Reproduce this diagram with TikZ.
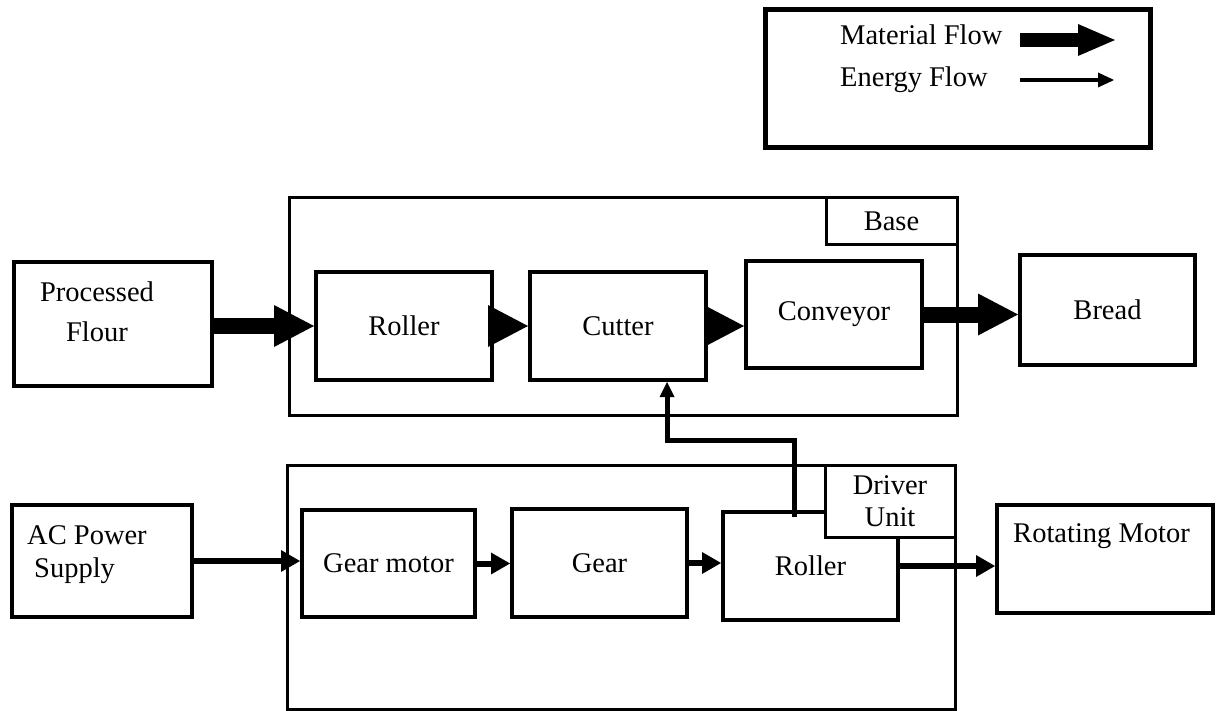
\documentclass[tikz,border=0pt]{standalone}
\usepackage{fontspec}
\setmainfont{Liberation Serif}
\usepackage{tikz}
\usetikzlibrary{positioning, calc, arrows.meta}
\tikzset{
    blocknode/.style={
        draw, line width=4pt, fill=white, anchor=center, inner sep=0pt,
        font=\fontsize{28.5}{34}\selectfont
    },
    groupnode/.style={
        draw, line width=3pt, anchor=center, inner sep=0pt
    },
    labeltext/.style={
        inner sep=0pt, font=\fontsize{28.5}{34}\selectfont
    }
}

\begin{document}
\begin{tikzpicture}[
        x=1pt, y=-1pt,
        % --- STYLE ---
        matflow/.style={draw, line width=16pt, -{Triangle[length=40pt, width=42pt, line width=0pt]}},
        engflow/.style={draw, line width=6pt, -{Triangle[length=19pt, width=22pt, line width=0pt]}},
        feedflow/.style={draw, line width=5pt, -{Triangle[length=15pt, width=15pt, line width=0pt]}},
        legendbox/.style={draw, line width=5pt, minimum width=385pt, minimum height=138pt, inner sep=0pt}
    ]
    \useasboundingbox (0,0) rectangle (1217,711);

        % ==========================================
        % LEGEND
        % ==========================================
        \node[legendbox] (legend) at (957.5,79) {};
        \node[labeltext, anchor=base west] (mattxt) at (840,45) {Material Flow};
        \node[labeltext, anchor=base west] (engtxt) at (840,87) {Energy Flow};
        \coordinate (matA) at (1020,40);
        \coordinate (matB) at (1115,40);
        \coordinate (engA) at (1020,80);
        \coordinate (engB) at (1114,80);
        \draw[line width=14pt, -{Triangle[length=37pt, width=32pt, line width=0pt]}] (matA) -- (matB);
        \draw[line width=4pt, -{Triangle[length=16pt, width=15pt, line width=0pt]}] (engA) -- (engB);

        % ==========================================
        % BASE
        % ==========================================
        \node[groupnode, minimum width=668pt, minimum height=217pt] (base) at (623,306.5) {};
        \node[blocknode, line width=3pt, minimum width=131pt, minimum height=47pt] (baselbl) at (891.5,221.5) {Base};

        \node[blocknode, minimum width=198pt, minimum height=124pt] (flour) at (113,324) {};
        \node[labeltext, align=center, font=\fontsize{28.5}{40}\selectfont] (flourtxt) at (97,312) {Processed\\Flour};

        \node[blocknode, minimum width=176pt, minimum height=108pt] (roller) at (404,326) {Roller};
        \node[blocknode, minimum width=176pt, minimum height=108pt] (cutter) at (618,326) {Cutter};
        \node[blocknode, minimum width=176pt, minimum height=107pt] (conveyor) at (834,314.5) {Conveyor};
        \node[blocknode, minimum width=175pt, minimum height=110pt] (bread) at (1107.5,310) {Bread};

        \draw[matflow] (flour.east |- roller.west) -- (roller.west);
        \draw[matflow] (roller.east) -- (cutter.west);
        \draw[matflow] (cutter.east) -- (conveyor.west |- cutter.east);
        \draw[matflow] (conveyor.east) -- (bread.west |- conveyor.east);

        % ==========================================
        % DRIVER UNIT
        % ==========================================
        \node[groupnode, minimum width=668pt, minimum height=244pt] (driver) at (621,587) {};

        \node[blocknode, minimum width=180pt, minimum height=112pt] (acps) at (102,561) {};
        \node[labeltext, align=left, anchor=west, font=\fontsize{28.5}{33}\selectfont] (acpstxt) at (27,555) {AC Power\\\hspace*{7pt}Supply};

        \node[blocknode, minimum width=173pt, minimum height=107pt] (gearmotor) at (388.5,563.5) {Gear motor};
        \node[blocknode, minimum width=175pt, minimum height=108pt] (gear) at (599.5,563) {Gear};
        \node[blocknode, minimum width=175pt, minimum height=108pt] (roller2) at (810.5,566) {Roller};
        \node[blocknode, line width=3pt, align=center, font=\fontsize{28.5}{32}\selectfont,
              minimum width=130pt, minimum height=72pt] (driverlbl) at (890,501) {Driver\\Unit};

        \node[blocknode, minimum width=216pt, minimum height=108pt] (rotmotor) at (1105,559) {};
        \node[labeltext] (rotmotortxt) at (1101.5,536.5) {Rotating Motor};

        \draw[engflow] (acps.east) -- (gearmotor.west |- acps.east);
        \draw[engflow] (gearmotor.east) -- (gear.west |- gearmotor.east);
        \draw[engflow] (gear.east) -- (roller2.west |- gear.east);
        \draw[engflow] (roller2.east) -- (rotmotor.west |- roller2.east);

        % Roller -> Cutter
        \coordinate (feed1) at (794,440);
        \coordinate (feed2) at (667,440);
        \draw[feedflow] ([yshift=-7pt]roller2.north -| feed1) -- (feed1) -- (feed2) -- (feed2 |- cutter.south);

\end{tikzpicture}
\end{document}
